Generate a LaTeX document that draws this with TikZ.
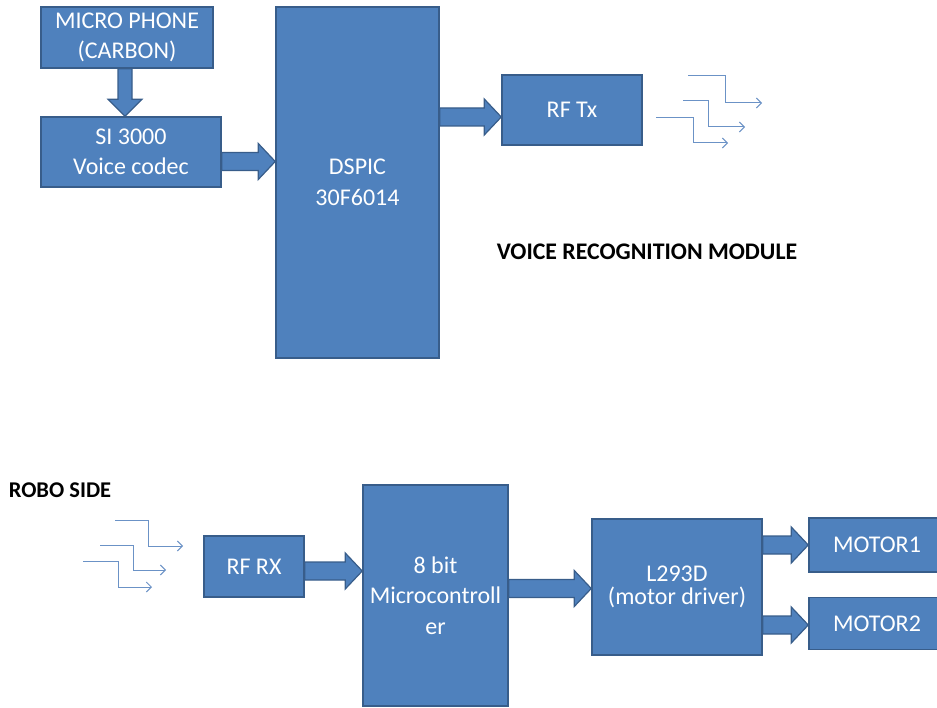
\documentclass[tikz,border=0pt]{standalone}
\usepackage{fontspec}
\setmainfont{Carlito}
\usepackage{tikz}
\usetikzlibrary{positioning,calc,arrows.meta}
\definecolor{BoxFill}{HTML}{4F81BD}
\definecolor{BoxLine}{HTML}{385D8A}
\definecolor{WaveLine}{HTML}{6B92C6}

% fat arrow from the east side of #1 to the west side of #2, at height #3
\newcommand{\hblockarrow}[3]{%
  \filldraw[fill=BoxFill, draw=BoxLine, line width=1.2pt] let \p1=(#1.east), \p2=(#2.west), \p3=(0,#3) in
    (\x1,\y3+9pt) -- (\x2-17pt,\y3+9pt) -- (\x2-17pt,\y3+18pt) -- (\x2,\y3)
    -- (\x2-17pt,\y3-18pt) -- (\x2-17pt,\y3-9pt) -- (\x1,\y3-9pt) -- cycle;}
% fat arrow from the south side of #1 to the north side of #2, at x #3
\newcommand{\vblockarrow}[3]{%
  \filldraw[fill=BoxFill, draw=BoxLine, line width=1.2pt] let \p1=(#1.south), \p2=(#2.north), \p3=(#3,0) in
    (\x3-7pt,\y1) -- (\x3-7pt,\y2+17pt) -- (\x3-17pt,\y2+17pt) -- (\x3,\y2)
    -- (\x3+17pt,\y2+17pt) -- (\x3+7pt,\y2+17pt) -- (\x3+7pt,\y1) -- cycle;}

\begin{document}
\begin{tikzpicture}[x=1pt, y=-1pt,
    block/.style={draw=BoxLine, fill=BoxFill, line width=1.5pt, rectangle, align=center,
      text=white, font=\fontsize{24}{30.5}\selectfont, inner sep=2pt},
    title/.style={font=\fontsize{22.5}{26}\selectfont\bfseries, text=black},
    wave/.style={draw=WaveLine, line width=1pt, -{Straight Barb[length=5pt, width=10pt]}}]
  \useasboundingbox (0,0) rectangle (937,708);
  \clip (0,0) rectangle (937,708);

  % Nodes (voice recognition side)
  \node [block, minimum width=172pt, minimum height=61pt] (mic) at (127,37.5)
    {MICRO PHONE\\(CARBON)};
  \node [block, minimum width=180pt, minimum height=70pt] (codec) at (131,152)
    {SI 3000\\Voice codec};
  \node [block, minimum width=163pt, minimum height=351pt] (dspic) at (357.5,182.5)
    {DSPIC\\30F6014};
  \node [block, minimum width=140pt, minimum height=70pt] (rftx) at (572,110)
    {RF Tx};
  \node [title, font=\fontsize{23.8}{26}\selectfont\bfseries] (vrm) at (647,252)
    {VOICE RECOGNITION MODULE};

  % Nodes (robo side)
  \node [title] (robo) at (60,490) {ROBO SIDE};
  \node [block, minimum width=100pt, minimum height=61pt] (rfrx) at (254,566.5)
    {RF RX};
  \node [block, minimum width=145pt, minimum height=221pt] (mcu) at (435.5,595.5)
    {8 bit\\Microcontroll\\er};
  \node [block, minimum width=170pt, minimum height=136pt] (driver) at (677,587)
    {L293D\\[-7pt](motor driver)};
  \node [block, minimum width=136pt, minimum height=54pt] (motor1) at (877,545)
    {MOTOR1};
  \node [block, minimum width=136pt, minimum height=52pt, below=24pt of motor1] (motor2)
    {MOTOR2};

  % Arrows
  \vblockarrow{mic}{codec}{125}
  \hblockarrow{codec}{dspic}{161.5}
  \hblockarrow{dspic}{rftx}{117}
  \hblockarrow{rfrx}{mcu}{571}
  \hblockarrow{mcu}{driver}{588.5}
  \hblockarrow{driver}{motor1}{545}
  \hblockarrow{driver}{motor2}{625}

  % Radio waves
  \draw [wave] (688,76) -| (725,103) -- (762,103);
  \draw [wave] (683,101) -| (708,127) -- (745,127);
  \draw [wave] (656,118) -| (693,143) -- (728,143);
  \draw [wave] (115,520) -| (148,546) -- (183,546);
  \draw [wave] (100,545) -| (133,570) -- (166,570);
  \draw [wave] (83,561) -| (118,587) -- (152,587);
\end{tikzpicture}
\end{document}
